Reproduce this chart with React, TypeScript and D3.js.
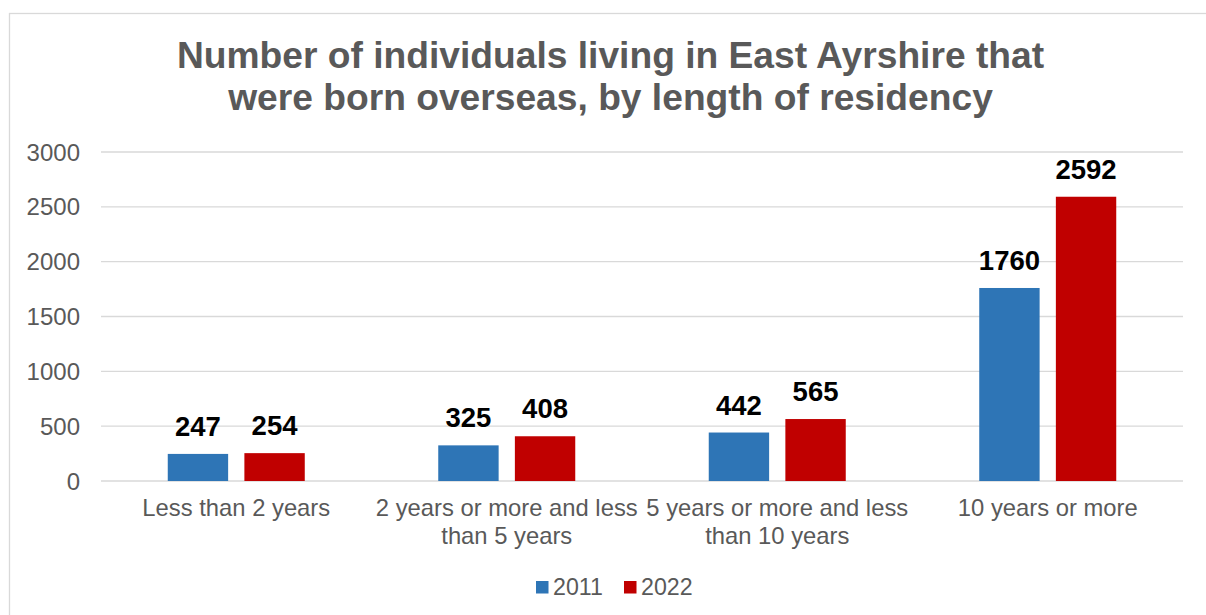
import React from "react";
import * as d3 from "d3";

const categories = [
  "Less than 2 years",
  "2 years or more and less than 5 years",
  "5 years or more and less than 10 years",
  "10 years or more",
];
const categoryLines = [
  ["Less than 2 years"],
  ["2 years or more and less", "than 5 years"],
  ["5 years or more and less", "than 10 years"],
  ["10 years or more"],
];
const seriesNames = ["2011", "2022"];
const values2011 = [247, 325, 442, 1760];
const values2022 = [254, 408, 565, 2592];
const seriesColors = ["#2E75B6", "#C00000"];
const yTicks = [0, 500, 1000, 1500, 2000, 2500, 3000];
const titleLines = [
  "Number of individuals living in East Ayrshire that",
  "were born overseas, by length of residency",
];

const W = 1206;
const H = 615;
const FONT = "'Liberation Sans', Arial, sans-serif";

export default function App() {
  // plot area
  const left = 101,
    right = 1183,
    top = 152,
    bottom = 481;

  const x0 = d3
    .scaleBand<string>()
    .domain(categories)
    .range([left, right])
    .paddingInner(0.4935)
    .paddingOuter(0.2468);
  const x1 = d3
    .scaleBand<string>()
    .domain(seriesNames)
    .range([0, x0.bandwidth()])
    .paddingInner(0.212);
  const y = d3.scaleLinear().domain([0, 3000]).range([bottom, top]);

  const series = [values2011, values2022];

  return (
    <svg
      width={W}
      height={H}
      style={{ position: "absolute", left: 0, top: 0, background: "#fff" }}
      fontFamily={FONT}
    >
      {/* chart border */}
      <rect x={9.5} y={13.5} width={1300} height={700} fill="#fff" stroke="#d9d9d9" strokeWidth={1.3} />

      {/* title */}
      {titleLines.map((t, i) => (
        <text
          key={i}
          x={610.5}
          y={68 + i * 42}
          textAnchor="middle"
          fontSize={37.2}
          fontWeight="bold"
          fill="#595959"
        >
          {t}
        </text>
      ))}

      {/* gridlines and y tick labels */}
      {yTicks.map((t) => (
        <g key={t}>
          <line x1={left} x2={right} y1={y(t)} y2={y(t)} stroke="#d9d9d9" strokeWidth={1.3} />
          <text
            x={80}
            y={y(t)}
            dy="0.36em"
            textAnchor="end"
            fontSize={24}
            fill="#595959"
          >
            {t}
          </text>
        </g>
      ))}

      {/* bars */}
      {categories.map((c, ci) => (
        <g key={c} transform={`translate(${x0(c)},0)`}>
          {seriesNames.map((s, si) => {
            const v = series[si][ci];
            const bx = x1(s)!;
            return (
              <g key={s}>
                <rect
                  x={bx}
                  y={y(v)}
                  width={x1.bandwidth()}
                  height={y(0) - y(v)}
                  fill={seriesColors[si]}
                />
                <text
                  x={bx + x1.bandwidth() / 2}
                  y={y(v) - 18}
                  textAnchor="middle"
                  fontSize={27.5}
                  fontWeight="bold"
                  fill="#000"
                >
                  {v}
                </text>
              </g>
            );
          })}
        </g>
      ))}

      {/* category labels */}
      {categories.map((c, ci) =>
        categoryLines[ci].map((line, li) => (
          <text
            key={c + li}
            x={x0(c)! + x0.bandwidth() / 2}
            y={516 + li * 28}
            textAnchor="middle"
            fontSize={23.8}
            fill="#595959"
          >
            {line}
          </text>
        ))
      )}

      {/* legend */}
      {seriesNames.map((s, si) => (
        <g key={s} transform={`translate(${536 + si * 88},0)`}>
          <rect x={0} y={581} width={12.5} height={12.5} fill={seriesColors[si]} />
          <text x={17} y={595} fontSize={23.2} fill="#595959">
            {s}
          </text>
        </g>
      ))}
    </svg>
  );
}
